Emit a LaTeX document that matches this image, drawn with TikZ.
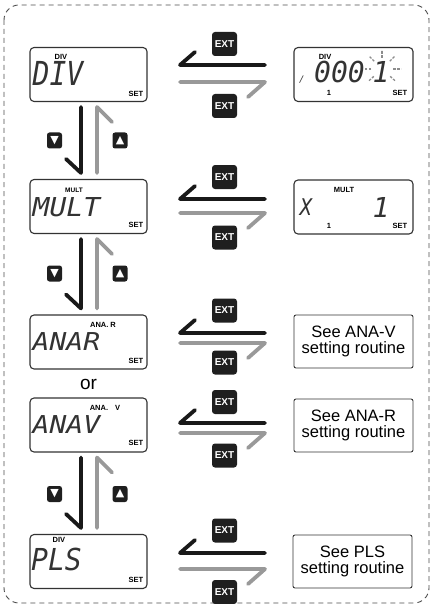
\documentclass[tikz,border=0pt]{standalone}
\usepackage{fontspec}
\setmainfont{Liberation Sans}
\newfontfamily\lcdfont{DejaVu Sans Mono}
\newfontfamily\symfont{DejaVu Sans}
\newcommand\extrow[5]{%
  \node[extkey] (#1k1) at (224.5,#2) {EXT};
  \node[extkey] (#1k2) at (224.5,#5) {EXT};
  \coordinate (#1br) at (265,#3);
  \coordinate (#1bl) at (180,#3);
  \coordinate (#1gl) at (180,#4);
  \coordinate (#1gr) at (265,#4);
  \draw[blk] (#1br) -- (#1bl) -- ++(15,-13);
  \draw[gry] (#1gl) -- (#1gr) -- ++(-17,15);
}
\newcommand\navpair[3]{%
  \node[navkey] (#1d) at (54.5,#2) {▼};
  \node[navkey] (#1u) at (120,#2) {▲};
  \draw[blk] ([xshift=-7.5pt,yshift=-5pt]#1.south) -- ([xshift=-7.5pt,yshift=6pt]#3.north) -- ++(-15,-14);
  \draw[gry] ([xshift=8.5pt,yshift=6pt]#3.north) -- ([xshift=8.5pt,yshift=-5pt]#1.south) -- ++(15,15);
}
\begin{document}
\begin{tikzpicture}[x=1pt,y=-1pt,
  frame/.style={draw=black!70, line width=0.9pt, dash pattern=on 5pt off 4pt, rounded corners=15pt},
  lcdbox/.style={draw=black!80, line width=1.1pt, rounded corners=4pt, minimum width=117pt, minimum height=54pt, inner sep=0pt},
  rbox/.style={lcdbox, minimum width=119pt},
  seebox/.style={draw=black!80, line width=0.9pt, rounded corners=2pt, minimum width=119pt, minimum height=53pt, inner sep=0pt, align=center, font=\fontsize{16.5}{15.5}\selectfont},
  lcd/.style={inner sep=0pt, anchor=base west, text=black!80, font=\lcdfont\itshape\fontsize{28}{28}\selectfont},
  lbl/.style={inner sep=0pt, font=\bfseries\fontsize{7.5}{7.5}\selectfont},
  extkey/.style={fill=black!88, rounded corners=3pt, minimum width=25pt, minimum height=24pt, inner sep=0pt, text=white, font=\bfseries\fontsize{10}{10}\selectfont},
  navkey/.style={fill=black!88, rounded corners=2.5pt, minimum width=15pt, minimum height=16pt, inner sep=0pt, text=white, font=\symfont\fontsize{11}{11}\selectfont},
  blk/.style={draw=black!90, line width=3.8pt, line cap=round, line join=round},
  gry/.style={draw=black!40, line width=3.8pt, line cap=round, line join=round},
  ray/.style={draw=black!45, line width=1.3pt, dash pattern=on 2.5pt off 1.5pt},
]
\useasboundingbox (0,0) rectangle (432,604);
\draw[frame] (4,5) rectangle (429,603);

% left displays
\node[lcdbox] (L1) at (88.5,74.5) {};
\node[lcdbox] (L2) at (88.5,206.5) {};
\node[lcdbox] (L3) at (88.5,342) {};
\node[lcdbox] (L4) at (88.5,425) {};
\node[lcdbox] (L5) at (88.5,561.5) {};

% right displays and boxes
\node[rbox] (R1) at (353.5,74.5) {};
\node[rbox] (R2) at (353.5,207) {};
\node[seebox] (R3) at (353.5,341.5) {See ANA-V\\setting routine};
\node[seebox] (R4) at (353.5,425.5) {See ANA-R\\setting routine};
\node[seebox] (R5) at (352.5,561.5) {See PLS\\setting routine};

% LCD texts left
\node[lcd] (L1t) at (32.5,86) {\scalebox{1}[1.18]{DIV}};
\node[lcd] (L2t) at (32.5,216) {\scalebox{1}[0.93]{MULT}};
\node[lcd] (L3t) at (32.5,350) {\scalebox{1}[0.88]{ANAR}};
\node[lcd] (L4t) at (32.5,433) {\scalebox{1}[0.88]{ANAV}};
\node[lcd] (L5t) at (31,570) {\scalebox{1}[1.08]{PLS}};

% LCD texts right
\node[lcd, font=\lcdfont\itshape\fontsize{9}{9}\selectfont] (R1tick) at (299,83) {/};
\node[lcd] (R1t) at (314,83) {\scalebox{1}[1.03]{000}};
\node[lcd, anchor=base] (R1one) at (381,83) {\scalebox{1}[1.03]{1}};
\node[lcd, anchor=base, font=\lcdfont\itshape\fontsize{20}{20}\selectfont] (R2x) at (306,215) {\scalebox{1}[1.15]{X}};
\node[lcd, anchor=base] (R2one) at (381,217) {\scalebox{1}[0.98]{1}};

% blinking rays
\coordinate (blink) at (382,69);
\foreach \a in {0,45,90,135,180,222,318}
  \draw[ray] (blink) ++(\a:11pt) -- ++(\a:8pt);

% small labels
\node[lbl] (L1a) at (61,57) {DIV};
\node[lbl] (L1s) at (136,94) {SET};
\node[lbl, font=\bfseries\fontsize{6.5}{6.5}\selectfont] (L2a) at (74,190) {MULT};
\node[lbl] (L2s) at (136,225) {SET};
\node[lbl] (L3a) at (103,325) {ANA. R};
\node[lbl] (L3s) at (136,361) {SET};
\node[lbl] (L4a) at (105,408) {ANA.\hspace{7pt}V};
\node[lbl] (L4s) at (136,443) {SET};
\node[lbl] (L5a) at (59,540) {DIV};
\node[lbl] (L5s) at (136,580) {SET};
\node[lbl] (R1a) at (325,57) {DIV};
\node[lbl] (R1n) at (329,93) {1};
\node[lbl] (R1s) at (400,93) {SET};
\node[lbl] (R2a) at (344,190) {MULT};
\node[lbl] (R2n) at (329,226) {1};
\node[lbl] (R2s) at (400,226) {SET};

\node[font=\fontsize{19}{19}\selectfont, inner sep=0pt] (or) at (88.5,384) {or};

% vertical navigation
\navpair{L1}{140.5}{L2}
\navpair{L2}{273.5}{L3}
\navpair{L4}{494}{L5}

% EXT rows
\extrow{A}{44}{65}{82}{106}
\extrow{B}{177}{199}{213}{237.5}
\extrow{C}{310.5}{333}{343}{362.5}
\extrow{D}{402}{423}{433}{455.5}
\extrow{E}{530.5}{553}{569}{592}
\end{tikzpicture}
\end{document}
